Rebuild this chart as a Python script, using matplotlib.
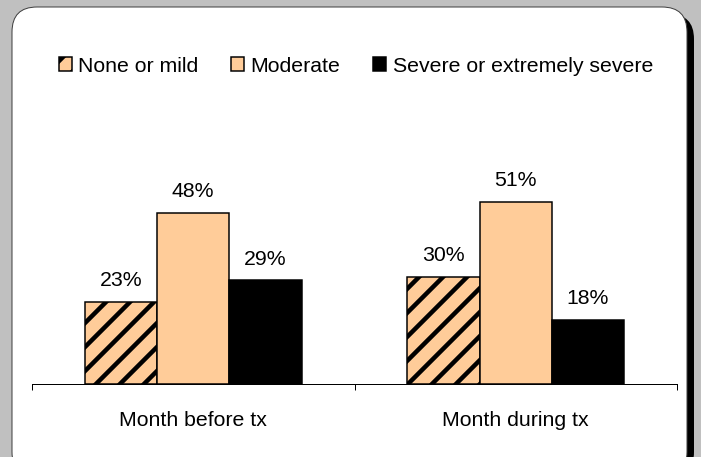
import matplotlib
matplotlib.use("Agg")
import matplotlib.pyplot as plt
from matplotlib.patches import FancyBboxPatch, Patch
import numpy as np

categories = ["Month before tx", "Month during tx"]
series_names = ["None or mild", "Moderate", "Severe or extremely severe"]
none_mild = [23, 30]
moderate = [48, 51]
severe = [29, 18]
values = [none_mild, moderate, severe]

W, H = 701, 457
DPI = 72
P = 72 / DPI  # points per pixel
FS = 21.3 * P

plt.rcParams['font.family'] = ['Liberation Sans', 'DejaVu Sans']
plt.rcParams['hatch.linewidth'] = 4.5 * P
plt.rcParams['hatch.color'] = 'black'

fig = plt.figure(figsize=(W / DPI, H / DPI), dpi=DPI)
fig.patch.set_facecolor('#c0c0c0')

def fx(px):
    return px / W

def fy(py):
    return 1 - py / H

# shadow and rounded white panel (pixel coordinates, origin bottom-left)
r = 25
panel = FancyBboxPatch((12, -20), 687 - 12, 457 + 20 - 7,
                       boxstyle=f"round,pad=0,rounding_size={r}",
                       transform=None, facecolor='white',
                       edgecolor='#404040', linewidth=1.0 * P, zorder=1)
shadow = FancyBboxPatch((19, -20), 687 - 12, 457 + 20 - 14,
                        boxstyle=f"round,pad=0,rounding_size={r}",
                        transform=None, facecolor='black',
                        edgecolor='none', zorder=0)
fig.patches.extend([shadow, panel])

# axes placement in pixels
ax_left, ax_right = 32, 677
ax_bottom = 384
ymax = 60
px_per_unit = 3.57
ax_top = ax_bottom - ymax * px_per_unit
ax = fig.add_axes([fx(ax_left), fy(ax_bottom), fx(ax_right - ax_left),
                   (ax_bottom - ax_top) / H], zorder=2)
ax.patch.set_alpha(0)
ax.set_xlim(0, len(categories))
ax.set_ylim(0, ymax)

x = np.arange(len(categories)) + 0.5
bw = 0.224
styles = [dict(facecolor='#FFCC99', hatch='/'),
          dict(facecolor='#FFCC99'),
          dict(facecolor='black')]
offsets = [-bw, 0, bw]
handles = []
for vals, st, off, name in zip(values, styles, offsets, series_names):
    bars = ax.bar(x + off, vals, width=bw, edgecolor='black', linewidth=1.5 * P,
                  label=name, **st)
    for b, v in zip(bars, vals):
        ax.annotate(f"{v}%", (b.get_x() + b.get_width() / 2, v),
                    xytext=(0, 21 * P), textcoords='offset points',
                    ha='center', va='center', fontsize=FS)
    handles.append(Patch(edgecolor='black', linewidth=1.5 * P, label=name, **st))

for s in ['left', 'top', 'right']:
    ax.spines[s].set_visible(False)
ax.spines['bottom'].set_linewidth(1.0 * P)
ax.set_yticks([])
ax.set_xticks(np.arange(len(categories) + 1))
ax.set_xticklabels([''] * (len(categories) + 1))
ax.tick_params(axis='x', which='major', direction='out', length=6 * P, width=1 * P)
ax.set_xticks(x, minor=True)
ax.set_xticklabels(categories, minor=True, fontsize=FS)
ax.tick_params(axis='x', which='minor', length=0, pad=27 * P)

fig.legend(handles=handles, loc='center', bbox_to_anchor=(fx(356), fy(66)),
           ncol=3, frameon=False, fontsize=FS, handlelength=0.6,
           handleheight=0.6, handletextpad=0.3, columnspacing=1.55)

fig.savefig('out.png', dpi=DPI, facecolor=fig.get_facecolor())
